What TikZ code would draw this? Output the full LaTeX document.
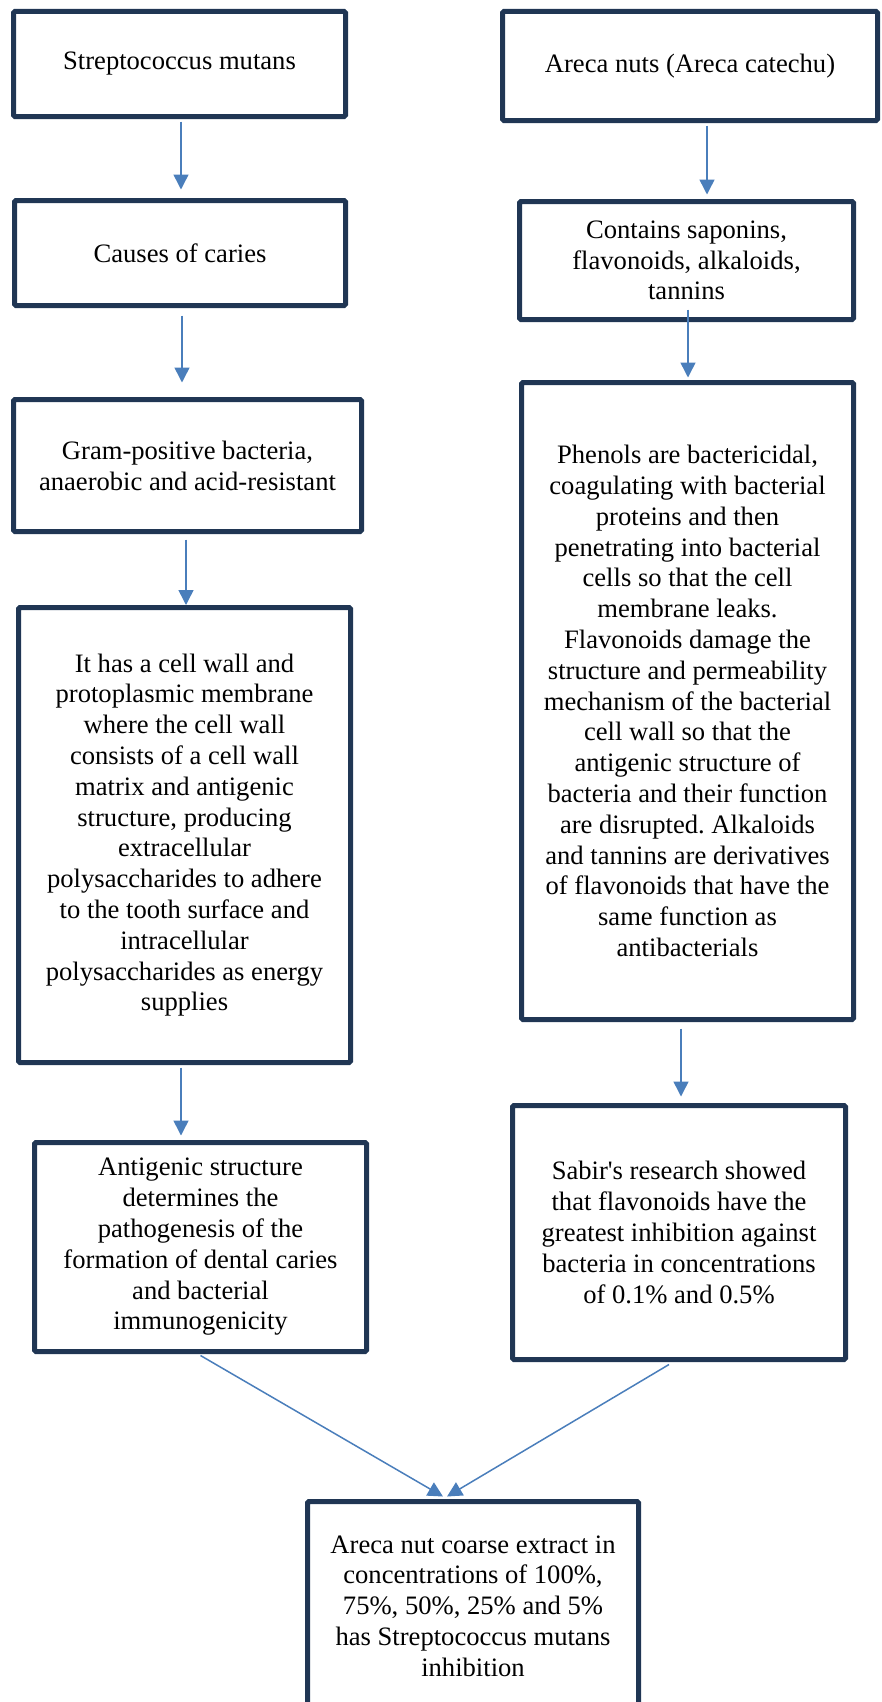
\documentclass[tikz,border=0pt]{standalone}
\usepackage{fontspec}
\setmainfont{Liberation Serif}[Ligatures=TeXOff]
\usepackage{tikz}
\usetikzlibrary{arrows.meta}
\definecolor{navy}{RGB}{32,54,84}
\definecolor{flowblue}{RGB}{74,126,187}
\frenchspacing

\begin{document}
\begin{tikzpicture}[x=1pt,y=-1pt]
\clip (0,0) rectangle (882,1702);
\begin{scope}[every node/.style={draw=navy,line width=5pt,rounded corners=1.5pt,
              align=center,inner sep=0pt,font=\fontsize{26.6}{30.8}\selectfont}]
    % left column
    \node[minimum width=332pt,minimum height=105pt] (strep) at (179.5,64) {Streptococcus mutans};
    \node[minimum width=331pt,minimum height=105pt] (caries) at (180,253) {Causes of caries};
    \node[minimum width=348pt,minimum height=132pt] (gram) at (187.5,465.5)
        {Gram-positive bacteria,\\ anaerobic and acid-resistant};
    \node[minimum width=332pt,minimum height=455pt] (wall) at (184.5,835)
        {It has a cell wall and\\ protoplasmic membrane\\ where the cell wall\\
         consists of a cell wall\\ matrix and antigenic\\ structure, producing\\
         extracellular\\ polysaccharides to adhere\\ to the tooth surface and\\
         intracellular\\ polysaccharides as energy\\ supplies};
    \node[minimum width=332pt,minimum height=209pt] (antigen) at (200.5,1247)
        {Antigenic structure\\ determines the\\ pathogenesis of the\\
         formation of dental caries\\ and bacterial\\ immunogenicity};
    % right column
    \node[minimum width=375pt,minimum height=109pt] (areca) at (690,66) {Areca nuts (Areca catechu)};
    \node[minimum width=334pt,minimum height=118pt] (contains) at (686.5,260.5)
        {Contains saponins,\\ flavonoids, alkaloids,\\ tannins};
    \node[minimum width=332pt,minimum height=637pt] (phenols) at (687.5,701)
        {Phenols are bactericidal,\\ coagulating with bacterial\\ proteins and then\\
         penetrating into bacterial\\ cells so that the cell\\ membrane leaks.\\
         Flavonoids damage the\\ structure and permeability\\ mechanism of the bacterial\\
         cell wall so that the\\ antigenic structure of\\ bacteria and their function\\
         are disrupted. Alkaloids\\ and tannins are derivatives\\ of flavonoids that have the\\
         same function as\\ antibacterials};
    \node[minimum width=333pt,minimum height=254pt] (sabir) at (679,1232.5)
        {Sabir's research showed\\ that flavonoids have the\\ greatest inhibition against\\
         bacteria in concentrations\\ of 0.1\% and 0.5\%};
    % bottom
    \node[minimum width=331pt,minimum height=209pt] (extract) at (473,1606)
        {Areca nut coarse extract in\\ concentrations of 100\%,\\ 75\%, 50\%, 25\% and 5\%\\
         has Streptococcus mutans\\ inhibition};
\end{scope}

\begin{scope}[>={Triangle[length=15pt,width=15pt]},
              every edge/.style={draw=flowblue,line width=1.5pt}]
    \path [->] ([xshift=1.5pt]strep.south) edge[shorten <=2.5pt,shorten >=8.5pt] ([xshift=1pt]caries.north);
    \path [->] ([xshift=2pt]caries.south) edge[shorten <=7.5pt,shorten >=14.5pt] ([xshift=-5.5pt]gram.north);
    \path [->] ([xshift=-1.5pt]gram.south) edge[shorten <=5.5pt] ([xshift=1.5pt]wall.north);
    \path [->] ([xshift=-3.5pt]wall.south) edge[shorten <=2.5pt,shorten >=4.5pt] ([xshift=-19.5pt]antigen.north);
    \path [->] ([xshift=17pt]areca.south) edge[shorten <=2.5pt,shorten >=4.5pt] ([xshift=20.5pt]contains.north);
    \path [->] ([xshift=1.5pt]contains.south) edge[shorten <=-12.5pt,shorten >=2.5pt] ([xshift=0.5pt]phenols.north);
    \path [->] ([xshift=-6.5pt]phenols.south) edge[shorten <=6.5pt,shorten >=6.5pt] ([xshift=2pt]sabir.north);
    \path [->] ([yshift=-1.5pt]antigen.south) edge ([xshift=-30pt,yshift=2.5pt]extract.north);
    \path [->] ([xshift=-10pt,yshift=-2.5pt]sabir.south) edge ([xshift=-26pt,yshift=2.5pt]extract.north);
\end{scope}
\end{tikzpicture}
\end{document}
